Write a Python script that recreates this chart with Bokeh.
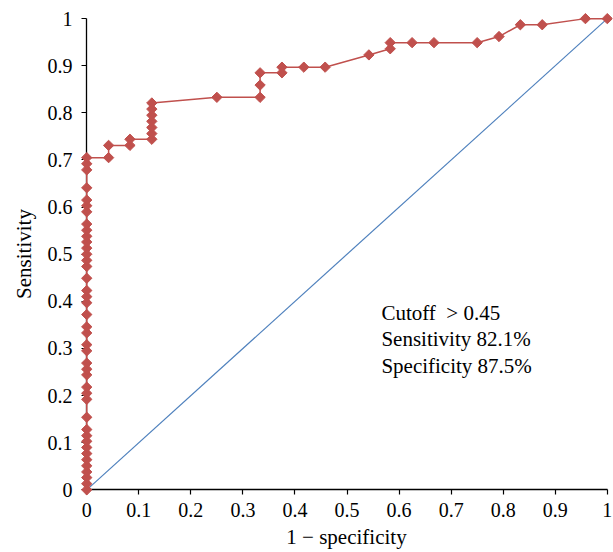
import math
from bokeh.plotting import figure
from bokeh.models import Range1d, Label, FixedTicker, LinearAxis
from bokeh.embed import file_html
from bokeh.resources import INLINE

# ROC curve points (1 - specificity, sensitivity)
fpr = [0, 0, 0, 0, 0, 0, 0, 0, 0, 0, 0, 0, 0, 0, 0, 0, 0, 0, 0, 0, 0,
       0, 0, 0, 0, 0, 0, 0, 0, 0, 0, 0, 0, 0, 0, 0, 0, 0, 0, 0, 0, 0,
       0.042, 0.042, 0.083, 0.083, 0.125, 0.125, 0.125, 0.125, 0.125, 0.125, 0.125,
       0.250, 0.333, 0.333, 0.333, 0.375, 0.375, 0.417, 0.458, 0.542, 0.583, 0.583,
       0.625, 0.667, 0.750, 0.792, 0.833, 0.875, 0.958, 1.0]
tpr = [0.0, 0.013, 0.026, 0.038, 0.051, 0.064, 0.077, 0.090, 0.103, 0.115, 0.128,
       0.154, 0.192, 0.205, 0.218, 0.244, 0.256, 0.269, 0.295, 0.308, 0.333,
       0.346, 0.372, 0.397, 0.410, 0.423, 0.449, 0.474, 0.487, 0.500, 0.513,
       0.526, 0.538, 0.551, 0.564, 0.590, 0.603, 0.615, 0.641, 0.679, 0.692, 0.705,
       0.705, 0.731, 0.731, 0.744, 0.744, 0.756, 0.769, 0.782, 0.795, 0.808, 0.821,
       0.833, 0.833, 0.859, 0.885, 0.885, 0.897, 0.897, 0.897, 0.923, 0.936, 0.949,
       0.949, 0.949, 0.949, 0.962, 0.987, 0.987, 1.0, 1.0]

# reference diagonal
diag_x = [0, 1]
diag_y = [0, 1]

tick_values = [0, 0.1, 0.2, 0.3, 0.4, 0.5, 0.6, 0.7, 0.8, 0.9, 1]
tick_labels = ["0", "0.1", "0.2", "0.3", "0.4", "0.5", "0.6", "0.7", "0.8", "0.9", "1"]

x_title = "1 \u2212 specificity"
y_title = "Sensitivity"
annotations = ["Cutoff\u00a0 > 0.45", "Sensitivity 82.1%", "Specificity 87.5%"]

FONT = "Liberation Serif"
RED = "#C0504D"
BLUE = "#4F81BD"

p = figure(width=613, height=552,
           x_range=Range1d(-0.012, 1.010), y_range=Range1d(-0.012, 1.013),
           output_backend="svg", toolbar_location=None,
           min_border_left=80, min_border_right=1, min_border_top=12, min_border_bottom=57)
p.outline_line_color = None
p.xgrid.grid_line_color = None
p.ygrid.grid_line_color = None
p.background_fill_color = "white"
p.border_fill_color = "white"

p.line(diag_x, diag_y, line_color=BLUE, line_width=1.2)
p.line(fpr, tpr, line_color=RED, line_width=1.5)
p.scatter(fpr, tpr, marker="square", size=7.3, angle=math.pi / 4,
          fill_color=RED, line_color=RED)

labels_map = {v: s for v, s in zip(tick_values, tick_labels)}

# axes drawn at the data origin: line and ticks only (under the data marks)
for ax in (p.xaxis[0], p.yaxis[0]):
    ax.fixed_location = 0
    ax.bounds = (0, 1)
    ax.level = "underlay"
    ax.ticker = FixedTicker(ticks=tick_values)
    ax.minor_tick_line_color = None
    ax.major_tick_in = 0
    ax.major_tick_out = 5
    ax.axis_line_color = "black"
    ax.axis_line_width = 1.3
    ax.major_tick_line_color = "black"
    ax.major_tick_line_width = 1.2
    ax.major_label_text_font_size = "0px"
    ax.major_label_text_color = None

# axes in the side panels: tick labels and titles
def label_axis(title, standoff, label_standoff):
    ax = LinearAxis(ticker=FixedTicker(ticks=tick_values),
                    major_label_overrides=labels_map,
                    axis_label=title)
    ax.bounds = (0, 1)
    ax.axis_line_color = None
    ax.major_tick_line_color = None
    ax.minor_tick_line_color = None
    ax.major_tick_in = 0
    ax.major_tick_out = 0
    ax.minor_tick_out = 0
    ax.major_label_standoff = standoff
    ax.major_label_text_font = FONT
    ax.major_label_text_font_size = "20px"
    ax.major_label_text_color = "black"
    ax.axis_label_text_font = FONT
    ax.axis_label_text_font_size = "21px"
    ax.axis_label_text_font_style = "normal"
    ax.axis_label_text_color = "black"
    ax.axis_label_standoff = label_standoff
    return ax

p.add_layout(label_axis(x_title, 7, 5), "below")
p.add_layout(label_axis(y_title, 8, 9), "left")

for i, t in enumerate(annotations):
    p.add_layout(Label(x=0.566, y=0.376 - i * 0.0565, text=t,
                       text_font=FONT, text_font_size="21px",
                       text_color="black", text_baseline="alphabetic"))

open("out.html", "w").write(file_html(p, INLINE))
